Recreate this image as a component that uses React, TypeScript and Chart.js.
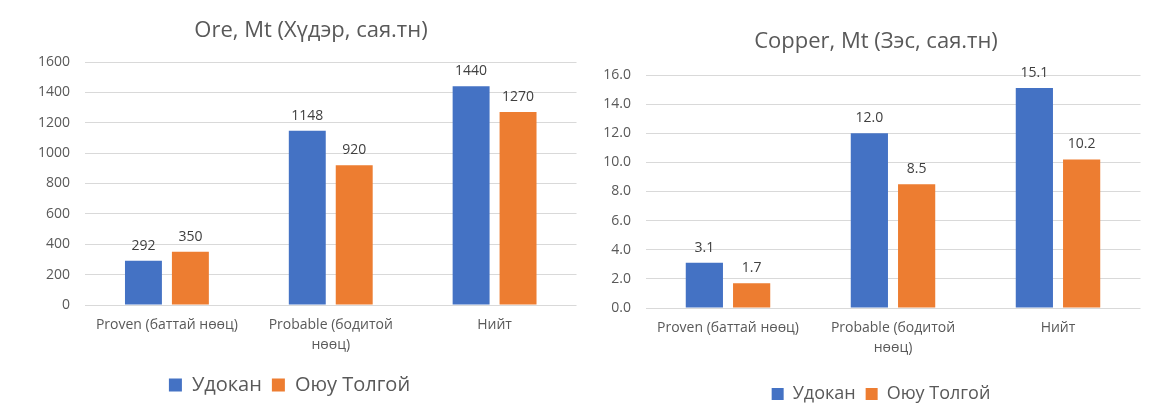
import React, { useEffect, useRef } from 'react';
import { Chart, registerables } from 'chart.js';

Chart.register(...registerables);

// ---------- data ----------
const categories: (string | string[])[] = ['Proven (баттай нөөц)', ['Probable (бодитой', 'нөөц)'], 'Нийт'];
const seriesNames = ['Удокан', 'Оюу Толгой'];
const oreUdokan = [292, 1148, 1440];
const oreOyuTolgoi = [350, 920, 1270];
const copperUdokan = [3.1, 12.0, 15.1];
const copperOyuTolgoi = [1.7, 8.5, 10.2];
const oreTicks = [0, 200, 400, 600, 800, 1000, 1200, 1400, 1600];
const copperTicks = [0, 2, 4, 6, 8, 10, 12, 14, 16];
const oreTitle = 'Ore, Mt (Хүдэр, сая.тн)';
const copperTitle = 'Copper, Mt (Зэс, сая.тн)';

// ---------- styles ----------
const FONT = "'Open Sans', 'Noto Sans', sans-serif";
const COLORS = ['#4472C4', '#ED7D31'];
const TEXT = '#595959';
const LABEL = '#404040';
const GRID = '#d9d9d9';

const valueLabels = {
  id: 'valueLabels',
  afterDatasetsDraw(chart: any, _args: any, opts: any) {
    const ctx = chart.ctx;
    ctx.save();
    ctx.font = `${opts.size}px ${FONT}`;
    ctx.fillStyle = opts.color;
    ctx.textAlign = 'center';
    ctx.textBaseline = 'middle';
    chart.data.datasets.forEach((ds: any, i: number) => {
      const meta = chart.getDatasetMeta(i);
      meta.data.forEach((el: any, j: number) => {
        ctx.fillText(opts.format(ds.data[j]), el.x, el.y - opts.offset);
      });
    });
    ctx.restore();
  },
};

const positionBoxes = {
  id: 'positionBoxes',
  beforeDraw(chart: any, _args: any, opts: any) {
    const shift = (box: any, cx: number | undefined) => {
      if (!box || cx == null) return;
      const w = box.right - box.left;
      box.left = cx - w / 2;
      box.right = cx + w / 2;
    };
    shift(chart.titleBlock, opts.titleX);
    shift(chart.legend, opts.legendX);
  },
};

type Cfg = {
  title: string;
  a: number[];
  b: number[];
  ticks: number[];
  decimals: number;
  width: number;
  yAxisWidth: number;
  tickPad: number;
  padRight: number;
  padBottom: number;
  titlePadTop: number;
  titlePadBottom: number;
  xAxisHeight: number;
  xPad: number;
  legendSize: number;
  legendBox: number;
  titleX: number;
  legendX: number;
  catPct: number;
  barPct: number;
};

function BarChart({ cfg }: { cfg: Cfg }) {
  const ref = useRef<HTMLCanvasElement>(null);
  useEffect(() => {
    if (!ref.current) return;
    const step = cfg.ticks[1] - cfg.ticks[0];
    const chart = new Chart(ref.current, {
      type: 'bar',
      data: {
        labels: categories as any,
        datasets: [
          { label: seriesNames[0], data: cfg.a, backgroundColor: COLORS[0], categoryPercentage: cfg.catPct, barPercentage: cfg.barPct },
          { label: seriesNames[1], data: cfg.b, backgroundColor: COLORS[1], categoryPercentage: cfg.catPct, barPercentage: cfg.barPct },
        ],
      },
      options: {
        responsive: false,
        animation: false,
        devicePixelRatio: 1,
        events: [],
        layout: { padding: { left: 0, right: cfg.padRight, top: 0, bottom: cfg.padBottom } },
        scales: {
          x: {
            grid: { display: false, drawTicks: false },
            border: { display: false },
            ticks: {
              color: TEXT,
              font: { family: FONT, size: 14, lineHeight: 1.42 },
              padding: cfg.xPad,
              maxRotation: 0,
              minRotation: 0,
              autoSkip: false,
            },
            afterFit: (s: any) => { s.height = cfg.xAxisHeight; },
          },
          y: {
            min: cfg.ticks[0],
            max: cfg.ticks[cfg.ticks.length - 1],
            grid: { color: GRID, lineWidth: 1, drawTicks: false },
            border: { display: false },
            ticks: {
              stepSize: step,
              color: TEXT,
              font: { family: FONT, size: 14 },
              padding: cfg.tickPad,
              callback: (v: any) => Number(v).toFixed(cfg.decimals),
            },
            afterFit: (s: any) => { s.width = cfg.yAxisWidth; },
          },
        },
        plugins: {
          title: {
            display: true,
            text: cfg.title,
            color: TEXT,
            font: { family: FONT, size: 22, weight: 'normal', lineHeight: 1.2 },
            padding: { top: cfg.titlePadTop, bottom: cfg.titlePadBottom },
          },
          legend: {
            display: true,
            position: 'bottom',
            labels: {
              color: TEXT,
              font: { family: FONT, size: cfg.legendSize },
              boxWidth: cfg.legendBox,
              boxHeight: cfg.legendBox,
              padding: 10,
            },
          },
          tooltip: { enabled: false },
          valueLabels: { size: 14, color: LABEL, offset: 15, format: (v: number) => v.toFixed(cfg.decimals) },
          positionBoxes: { titleX: cfg.titleX, legendX: cfg.legendX },
        } as any,
      },
      plugins: [valueLabels, positionBoxes],
    });
    return () => chart.destroy();
  }, [cfg]);
  return <canvas ref={ref} width={cfg.width} height={418} style={{ width: cfg.width, height: 418, display: 'block' }} />;
}

const oreCfg: Cfg = {
  title: oreTitle, a: oreUdokan, b: oreOyuTolgoi, ticks: oreTicks, decimals: 0,
  width: 590, yAxisWidth: 85, tickPad: 15, padRight: 13.5, padBottom: 13,
  titlePadTop: 17.8, titlePadBottom: 17.8, xAxisHeight: 60, xPad: 10,
  legendSize: 20, legendBox: 13, titleX: 311, legendX: 289.5, catPct: 0.573, barPct: 0.787,
};

const copperCfg: Cfg = {
  title: copperTitle, a: copperUdokan, b: copperOyuTolgoi, ticks: copperTicks, decimals: 1,
  width: 564, yAxisWidth: 55.5, tickPad: 14.5, padRight: 13.5, padBottom: 5,
  titlePadTop: 29, titlePadBottom: 19.6, xAxisHeight: 67, xPad: 10,
  legendSize: 18, legendBox: 12, titleX: 286, legendX: 291, catPct: 0.573, barPct: 0.787,
};

export default function App() {
  return (
    <div style={{ position: 'absolute', left: 0, top: 0, width: 1154, height: 418, background: '#fff', display: 'flex' }}>
      <BarChart cfg={oreCfg} />
      <BarChart cfg={copperCfg} />
    </div>
  );
}
